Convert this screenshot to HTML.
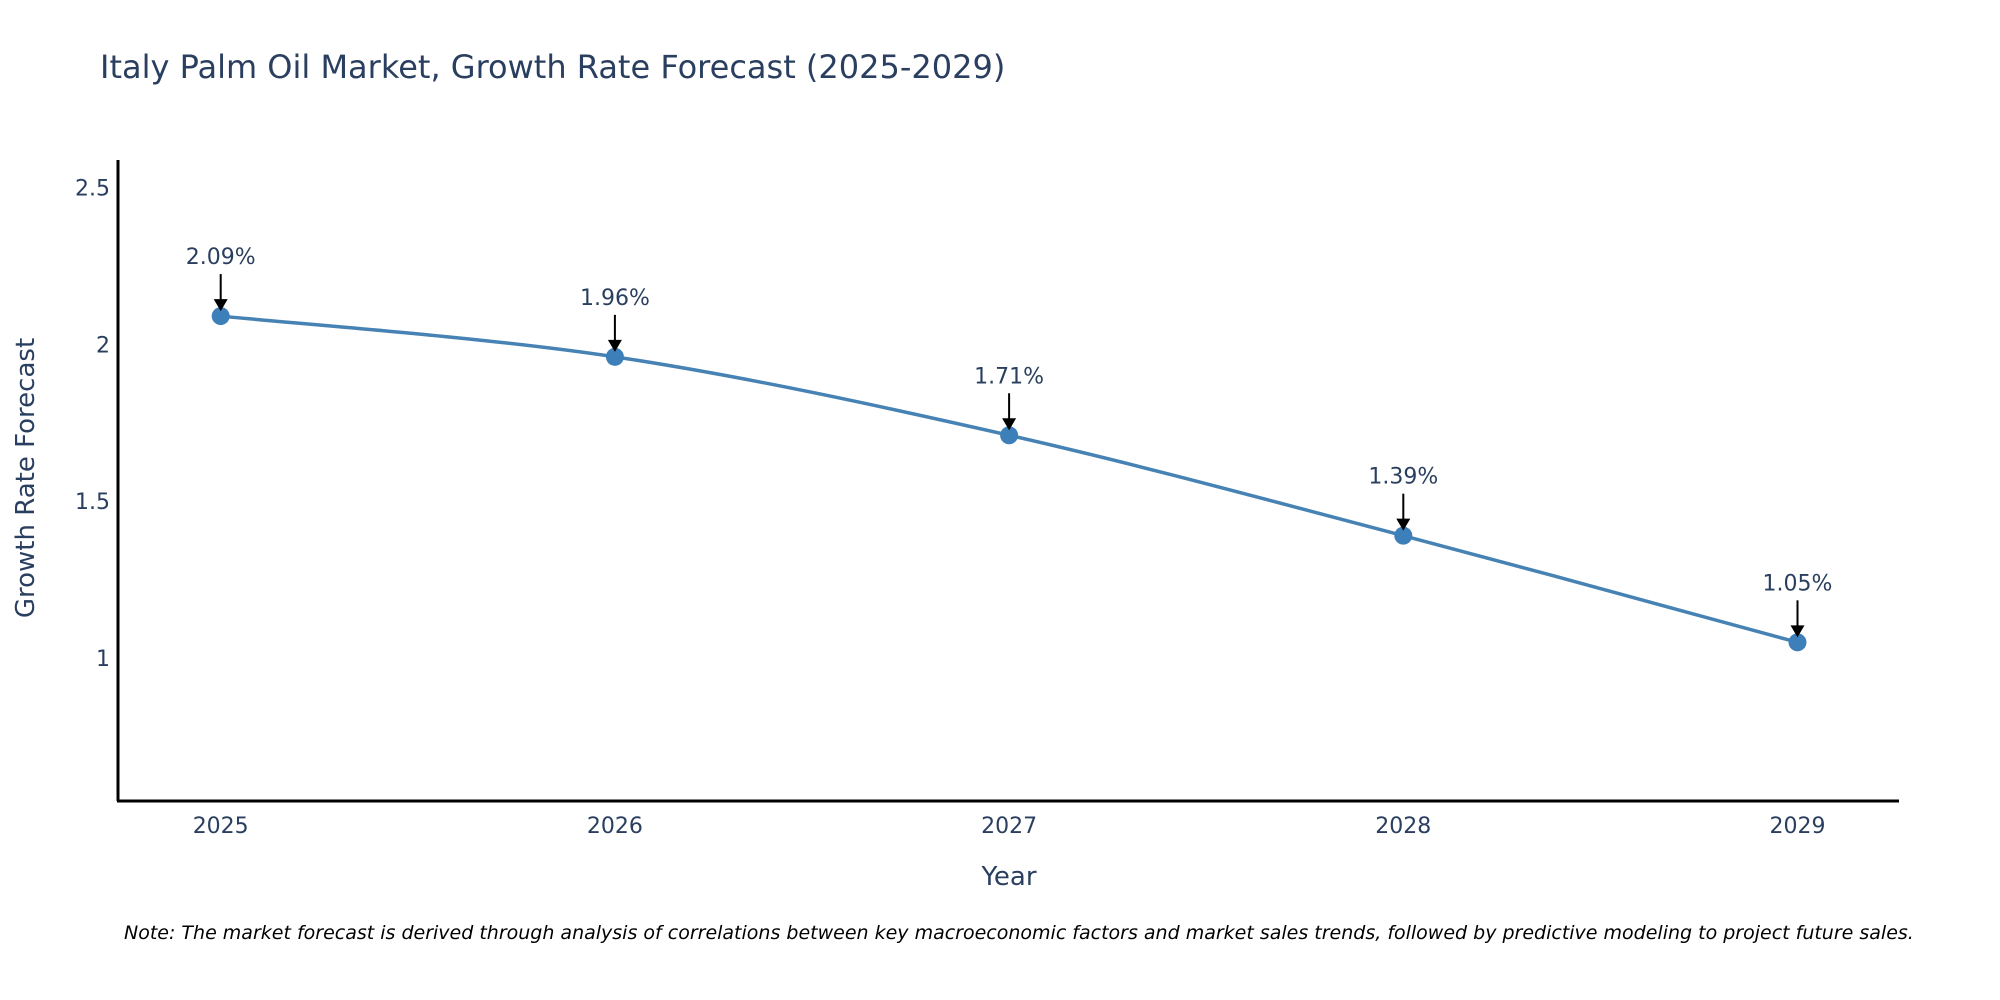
<!DOCTYPE html>
<html><head><meta charset="utf-8"><style>
body{margin:0;background:#fff;}
svg{display:block;font-family:"DejaVu Sans","Liberation Sans",sans-serif;}
</style></head><body>
<svg id="chart" width="2000" height="1000">
<text x="100" y="78" font-size="32" fill="#2a3f5f">Italy Palm Oil Market, Growth Rate Forecast (2025-2029)</text>
<g id="yticks"></g><g id="xticks"></g>
<line x1="118" y1="160" x2="118" y2="801" stroke="#000" stroke-width="3"/>
<line x1="117" y1="801" x2="1899" y2="801" stroke="#000" stroke-width="3"/>
<g id="series"></g>
<text x="0" y="0" transform="translate(34,478) rotate(-90)" text-anchor="middle" font-size="26" fill="#2a3f5f">Growth Rate Forecast</text>
<text x="1009" y="885" text-anchor="middle" font-size="26" fill="#2a3f5f">Year</text>
<text x="124" y="939" font-size="19" font-style="italic" fill="#000">Note: The market forecast is derived through analysis of correlations between key macroeconomic factors and market sales trends, followed by predictive modeling to project future sales.</text>
</svg>
<script>
const years=[2025,2026,2027,2028,2029];
const values=[2.09,1.96,1.71,1.39,1.05];
const labels=["2.09%","1.96%","1.71%","1.39%","1.05%"];
const yTicks=[1,1.5,2,2.5];
const yTickLabels=["1","1.5","2","2.5"];
const NS="http://www.w3.org/2000/svg";
function xs(v){return 220.7+(v-2025)*394.2;}
function ys(v){return 658-(v-1)*313.7;}
function mk(t,a,p){const e=document.createElementNS(NS,t);for(const k in a)e.setAttribute(k,a[k]);p.appendChild(e);return e;}
const yt=document.getElementById('yticks');
yTicks.forEach((v,i)=>{const t=mk('text',{x:110,y:ys(v)+8,'text-anchor':'end','font-size':22,fill:'#2a3f5f'},yt);


t.textContent=yTickLabels[i];});
const xt=document.getElementById('xticks');
years.forEach(y=>{const t=mk('text',{x:xs(y),y:833,'text-anchor':'middle','font-size':22,fill:'#2a3f5f'},xt);


t.textContent=y;});
const g=document.getElementById('series');
const P=years.map((y,i)=>[xs(y),ys(values[i])]);
let d=`M${P[0][0]},${P[0][1]}`;
for(let i=0;i<P.length-1;i++){const p0=P[Math.max(0,i-1)],p1=P[i],p2=P[i+1],p3=P[Math.min(P.length-1,i+2)];const s=1/6;
d+=` C${p1[0]+(p2[0]-p0[0])*s},${p1[1]+(p2[1]-p0[1])*s} ${p2[0]-(p3[0]-p1[0])*s},${p2[1]-(p3[1]-p1[1])*s} ${p2[0]},${p2[1]}`;}
const line=mk('path',{d:d,fill:'none',stroke:'#4682b4','stroke-width':3.5},g);


P.forEach((p,i)=>{const c=mk('circle',{cx:p[0],cy:p[1],r:9,fill:'#3d7fb8'},g);


const a=mk('line',{x1:p[0],y1:p[1]-42,x2:p[0],y2:p[1]-16,stroke:'#000','stroke-width':2},g);


const h=mk('polygon',{points:`${p[0]-7},${p[1]-17} ${p[0]+7},${p[1]-17} ${p[0]},${p[1]-5}`,fill:'#000'},g);


const t=mk('text',{x:p[0],y:p[1]-52,'text-anchor':'middle','font-size':22,fill:'#2a3f5f'},g);


t.textContent=labels[i];});
</script>
</body></html>
